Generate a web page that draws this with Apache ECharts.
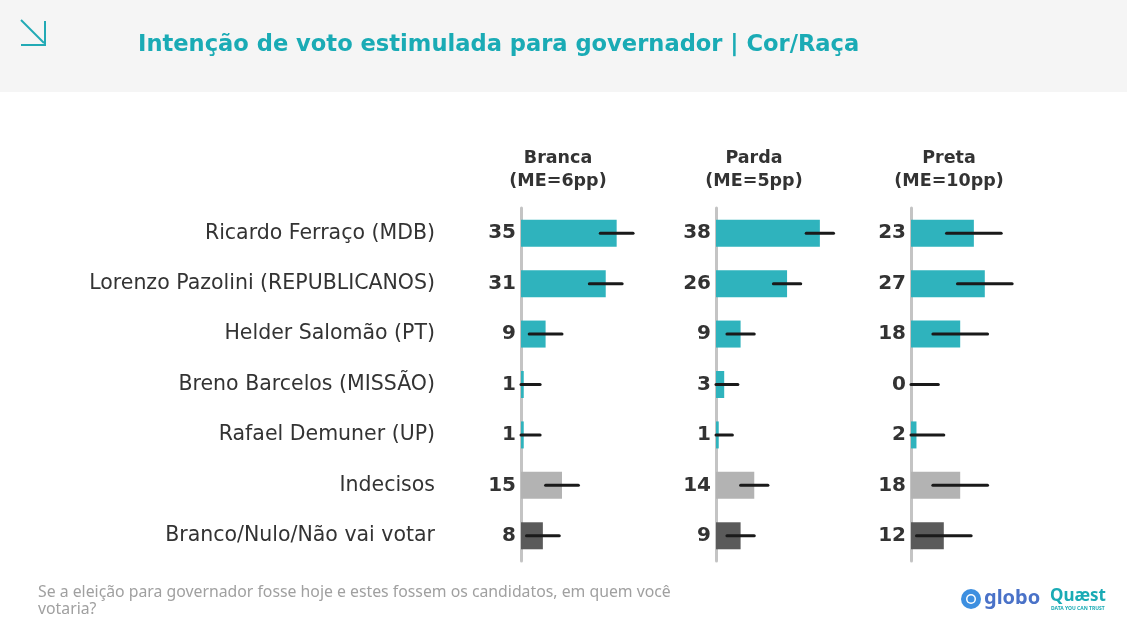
<!DOCTYPE html>
<html>
<head>
<meta charset="utf-8">
<script src="https://cdn.jsdelivr.net/npm/echarts@6/dist/echarts.min.js"></script>
<style>
  html, body { margin: 0; padding: 0; background: #fff; }
  #chart { width: 1127px; height: 631px; }
</style>
</head>
<body>
<div id="chart"></div>
<script>
// categorias e valores (%)
const categories = [
  'Ricardo Ferraço (MDB)',
  'Lorenzo Pazolini (REPUBLICANOS)',
  'Helder Salomão (PT)',
  'Breno Barcelos (MISSÃO)',
  'Rafael Demuner (UP)',
  'Indecisos',
  'Branco/Nulo/Não vai votar'
];
const groups = ['Branca', 'Parda', 'Preta'];
const margins = [6, 5, 10];
const branca = [35, 31, 9, 1, 1, 15, 8];
const parda = [38, 26, 9, 3, 1, 14, 9];
const preta = [23, 27, 18, 0, 2, 18, 12];
const values = [branca, parda, preta];

const barColors = ['#2fb3bd', '#2fb3bd', '#2fb3bd', '#2fb3bd', '#2fb3bd', '#b3b3b3', '#5a5a5a'];

const FONT = '"Noto Sans", sans-serif';
const WIDE = '"DejaVu Sans", sans-serif';
const gridLeft = [521, 716, 911];

const chart = echarts.init(document.getElementById('chart'));

const grid = gridLeft.map(l => ({ left: l, top: 208, width: 164, height: 353 }));

const xAxis = groups.map((g, i) => ({
  gridIndex: i, type: 'value', min: 0, max: 60, show: false
}));

const yAxis = groups.map((g, i) => ({
  gridIndex: i,
  type: 'category',
  data: categories,
  inverse: true,
  axisLine: { show: true, lineStyle: { color: '#c4c4c4', width: 3 } },
  axisTick: { show: false },
  axisLabel: {
    margin: 5,
    fontFamily: WIDE, fontSize: 20, fontWeight: 'bold', color: '#333',
    formatter: (v, idx) => String(values[i][idx])
  }
}));
// nomes dos candidatos
yAxis.push({
  gridIndex: 0,
  type: 'category',
  data: categories,
  inverse: true,
  position: 'left',
  offset: 86,
  axisLine: { show: false },
  axisTick: { show: false },
  axisLabel: { margin: 0, fontFamily: WIDE, fontSize: 20.5, color: '#333' }
});

const series = [];
groups.forEach((g, i) => {
  series.push({
    type: 'bar',
    xAxisIndex: i, yAxisIndex: i,
    barWidth: 27,
    silent: true,
    data: values[i].map((v, k) => ({ value: v, itemStyle: { color: barColors[k] } }))
  });
  series.push({
    type: 'custom',
    xAxisIndex: i, yAxisIndex: i,
    silent: true,
    z: 5,
    data: values[i].map((v, k) => [k, Math.max(0, v - margins[i]), v + margins[i]]),
    encode: { x: [1, 2], y: 0 },
    renderItem: (params, api) => {
      const a = api.coord([api.value(1), api.value(0)]);
      const b = api.coord([api.value(2), api.value(0)]);
      return {
        type: 'line',
        shape: { x1: a[0], y1: a[1], x2: b[0], y2: b[1] },
        style: { stroke: '#1a1a1a', lineWidth: 3, lineCap: 'round' }
      };
    }
  });
});

const headerX = [558, 754, 949];
const headers = groups.map((g, i) => ({
  type: 'text',
  x: headerX[i], y: 147,
  style: {
    text: g + '\n(ME=' + margins[i] + 'pp)',
    textAlign: 'center',
    fontFamily: WIDE, fontSize: 17.5, fontWeight: 'bold', fill: '#333', lineHeight: 23
  }
}));

chart.setOption({
  backgroundColor: '#fff',
  animation: false,
  grid, xAxis, yAxis, series,
  graphic: [
    { type: 'rect', shape: { x: 0, y: 0, width: 1127, height: 92 }, style: { fill: '#f5f5f5' }, z: -10 },
    { type: 'polyline', shape: { points: [[21, 20], [44, 43]] }, style: { stroke: '#22aab5', lineWidth: 2, fill: null } },
    { type: 'polyline', shape: { points: [[21, 45], [45, 45], [45, 21]] }, style: { stroke: '#22aab5', lineWidth: 2, fill: null } },
    {
      type: 'text', x: 138, y: 45,
      style: {
        text: 'Intenção de voto estimulada para governador | Cor/Raça',
        fontFamily: WIDE, fontSize: 22.6, fontWeight: 'bold', fill: '#1aabb5', textVerticalAlign: 'middle'
      }
    },
    ...headers,
    {
      type: 'text', x: 38, y: 584,
      style: {
        text: 'Se a eleição para governador fosse hoje e estes fossem os candidatos, em quem você\nvotaria?',
        fontFamily: FONT, fontSize: 15.8, fill: '#a0a0a0', lineHeight: 17
      }
    },
    // logos
    { type: 'circle', shape: { cx: 971, cy: 599, r: 10 }, style: { fill: '#3d8fe0' } },
    { type: 'circle', shape: { cx: 971, cy: 599, r: 5 }, style: { fill: '#fff' } },
    { type: 'circle', shape: { cx: 971, cy: 599, r: 3.5 }, style: { fill: '#3d8fe0' } },
    {
      type: 'text', x: 984, y: 598,
      style: { text: 'globo', fontFamily: FONT, fontSize: 20, fontWeight: 'bold', fill: '#4a72c8', textVerticalAlign: 'middle' }
    },
    {
      type: 'text', x: 1050, y: 596,
      style: { text: 'Quæst', fontFamily: FONT, fontSize: 17, fontWeight: 'bold', fill: '#1aabb5', textVerticalAlign: 'middle' }
    },
    {
      type: 'text', x: 1051, y: 606,
      style: { text: 'DATA YOU CAN TRUST', fontFamily: FONT, fontSize: 5, fontWeight: 'bold', fill: '#1aabb5' }
    }
  ]
});
</script>
</body>
</html>
